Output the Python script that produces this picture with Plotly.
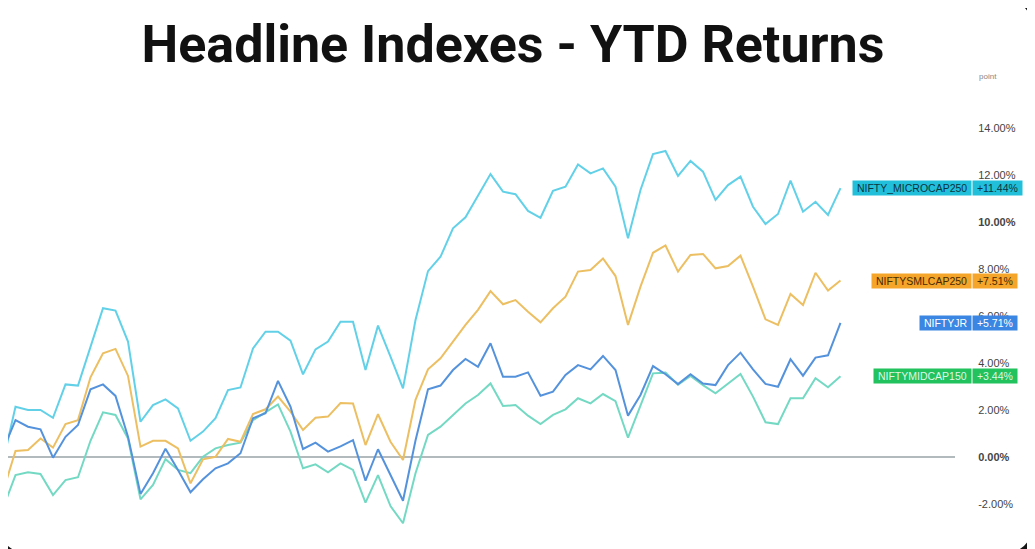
import plotly.graph_objects as go

# ---------------- data ----------------
days = list(range(1, 69))

micro = [-0.20, 2.14, 2.00, 2.00, 1.67, 3.09, 3.04, 4.69, 6.33, 6.23,
         4.91, 1.50, 2.21, 2.45, 2.07, 0.69, 1.08, 1.65, 2.85, 2.96,
         4.62, 5.33, 5.33, 4.95, 3.52, 4.58, 4.91, 5.76, 5.76, 3.70,
         5.59, 4.27, 2.92, 5.83, 7.91, 8.52, 9.73, 10.20, 11.10, 12.04,
         11.29, 11.18, 10.47, 10.18, 11.33, 11.50, 12.45, 12.07, 12.28, 11.50,
         9.31, 11.36, 12.89, 13.02, 11.96, 12.60, 12.14, 10.94, 11.57, 11.93,
         10.65, 9.91, 10.34, 11.76, 10.44, 10.86, 10.30, 11.44]

smlcap = [-1.48, 0.26, 0.30, 0.79, 0.40, 1.40, 1.57, 3.39, 4.41, 4.60,
          3.45, 0.44, 0.69, 0.69, 0.37, -1.12, -0.10, 0.01, 0.77, 0.65,
          1.83, 2.03, 2.57, 1.93, 1.15, 1.67, 1.72, 2.30, 2.28, 0.51,
          1.82, 0.65, -0.13, 2.43, 3.73, 4.20, 4.91, 5.62, 6.26, 7.06,
          6.50, 6.68, 6.18, 5.73, 6.33, 6.82, 7.89, 7.96, 8.45, 7.70,
          5.62, 7.25, 8.69, 9.00, 7.89, 8.60, 8.64, 8.03, 8.13, 8.57,
          7.25, 5.86, 5.62, 6.94, 6.47, 7.84, 7.08, 7.51]

jr = [0.30, 1.57, 1.29, 1.18, -0.03, 0.86, 1.36, 2.88, 3.09, 2.60,
      0.86, -1.57, -0.69, 0.35, -0.55, -1.50, -0.95, -0.48, -0.27, 0.16,
      1.65, 1.86, 3.24, 2.14, 0.34, 0.61, 0.23, 0.45, 0.72, -1.01,
      0.33, -0.77, -1.86, 0.70, 2.88, 3.04, 3.70, 4.17, 3.84, 4.84,
      3.42, 3.42, 3.60, 2.61, 2.78, 3.49, 3.91, 3.73, 4.30, 3.70,
      1.76, 2.64, 3.87, 3.52, 3.10, 3.52, 3.13, 3.06, 3.91, 4.44,
      3.73, 3.11, 2.99, 4.16, 3.46, 4.23, 4.33, 5.71]

mid = [-2.18, -0.77, -0.65, -0.72, -1.62, -0.98, -0.86, 0.69, 1.90, 1.79,
       0.79, -1.80, -1.19, -0.09, -0.55, -0.69, 0.01, 0.37, 0.51, 0.61,
       1.57, 1.89, 2.24, 1.08, -0.48, -0.31, -0.65, -0.27, -0.55, -1.94,
       -0.77, -2.09, -2.82, -0.69, 0.94, 1.29, 1.79, 2.28, 2.64, 3.13,
       2.17, 2.21, 1.76, 1.40, 1.79, 2.03, 2.50, 2.28, 2.68, 2.38,
       0.82, 2.21, 3.56, 3.59, 3.08, 3.45, 3.06, 2.71, 3.11, 3.53,
       2.57, 1.48, 1.40, 2.50, 2.50, 3.35, 2.97, 3.44]

names = ["NIFTY_MICROCAP250", "NIFTYSMLCAP250", "NIFTYJR", "NIFTYMIDCAP150"]
final_labels = ["+11.44%", "+7.51%", "+5.71%", "+3.44%"]
tick_vals = [-2, 0, 2, 4, 6, 8, 10, 12, 14]
tick_text = ["-2.00%", "<b>0.00%</b>", "2.00%", "4.00%", "6.00%", "8.00%",
             "<b>10.00%</b>", "12.00%", "14.00%"]

# ---------------- styles ----------------
OFF = 8                      # page body margin offset
W, H = 1035 - OFF, 549 - OFF
ML, MR, MT, MB = 0, 80, 90 - OFF, 0
line_colors = ["#62d1e8", "#ecbf62", "#5592dc", "#74d9c3"]
box_colors = ["#22bfdb", "#f4a52a", "#3a86e2", "#22c25f"]
text_colors = ["#0c3440", "#4a2a00", "#ffffff", "#dff7e6"]

series = [micro, smlcap, jr, mid]
order = [3, 1, 0, 2]

fig = go.Figure()
for k in order:
    fig.add_trace(go.Scatter(x=days, y=series[k], mode="lines", name=names[k],
                             line=dict(color=line_colors[k], width=2),
                             hoverinfo="skip", showlegend=False))

pw = W - ML - MR
ph = H - MT - MB

def px_x(p):  # reference-screen px -> paper
    return (p - OFF - ML) / pw

def px_y(p):
    return (H - MB - (p - OFF)) / ph

ppu = 23.5
zero_px = 457 - OFF
y_top = (zero_px - MT) / ppu
y_bot = (zero_px - (H - MB)) / ppu
first_px = 3 - OFF
x_left = days[0] - first_px / 12.5
x_right = x_left + pw / 12.5

LF = "Liberation Sans, Arial"
annotations = []
for k in range(4):
    yv = series[k][-1]
    annotations.append(dict(
        x=px_x(972), xref="paper", y=yv, yref="y", xanchor="right", yanchor="middle",
        text="\u00a0" + names[k] + "\u00a0", showarrow=False, bgcolor=box_colors[k],
        borderpad=1, font=dict(family=LF, size=10.5, color=text_colors[k])))
    annotations.append(dict(
        x=px_x(972.5), xref="paper", y=yv, yref="y", xanchor="left", yanchor="middle",
        text="\u00a0" + final_labels[k] + "\u00a0", showarrow=False, bgcolor=box_colors[k],
        borderpad=1, font=dict(family=LF, size=10.5, color=text_colors[k])))

annotations.append(dict(x=px_x(978), xref="paper", y=-4, yref="y", xanchor="left",
                        yanchor="middle", text="-4.00%", showarrow=False,
                        font=dict(family=LF, size=11, color="#444")))
annotations.append(dict(x=px_x(977), xref="paper", y=px_y(77), yref="paper", xanchor="left",
                        yanchor="middle", text="point", showarrow=False,
                        font=dict(family=LF, size=8, color="#888")))

# rounded frame mask (dark outside a rounded rectangle), reference px
fx0, fy0, fx1, fy1, r = 0, 0, 1032, 553, 30
outer = (f"M {px_x(-40)} {px_y(-40)} L {px_x(1080)} {px_y(-40)} "
         f"L {px_x(1080)} {px_y(600)} L {px_x(-40)} {px_y(600)} Z ")
inner = (f"M {px_x(fx0+r)} {px_y(fy0)} "
         f"Q {px_x(fx0)} {px_y(fy0)} {px_x(fx0)} {px_y(fy0+r)} "
         f"L {px_x(fx0)} {px_y(fy1-r)} "
         f"Q {px_x(fx0)} {px_y(fy1)} {px_x(fx0+r)} {px_y(fy1)} "
         f"L {px_x(fx1-r)} {px_y(fy1)} "
         f"Q {px_x(fx1)} {px_y(fy1)} {px_x(fx1)} {px_y(fy1-r)} "
         f"L {px_x(fx1)} {px_y(fy0+r)} "
         f"Q {px_x(fx1)} {px_y(fy0)} {px_x(fx1-r)} {px_y(fy0)} Z")

shapes = [dict(type="path", xref="paper", yref="paper", path=outer + inner,
               fillcolor="#151515", line=dict(width=0), layer="above")]

fig.update_layout(
    width=W, height=H,
    margin=dict(l=ML, r=MR, t=MT, b=MB, pad=0),
    paper_bgcolor="white", plot_bgcolor="white",
    title=dict(text="<b>Headline Indexes - YTD Returns</b>", x=(513 - OFF) / W,
               xanchor="center", y=1 - (44 - OFF) / H, yanchor="middle",
               font=dict(family="Roboto", size=52, color="#111111")),
    xaxis=dict(range=[x_left, x_right], showgrid=False, zeroline=False,
               showticklabels=False, ticks="", showline=False),
    yaxis=dict(range=[y_bot, y_top], side="right", showgrid=False,
               zeroline=True, zerolinecolor="#b3babd", zerolinewidth=1.5,
               tickvals=tick_vals, ticktext=tick_text, ticks="outside",
               ticklen=20, tickcolor="rgba(0,0,0,0)", showline=False,
               tickfont=dict(family=LF, size=11, color="#444")),
    annotations=annotations,
    shapes=shapes,
    showlegend=False,
)

fig.write_html("out.html")
